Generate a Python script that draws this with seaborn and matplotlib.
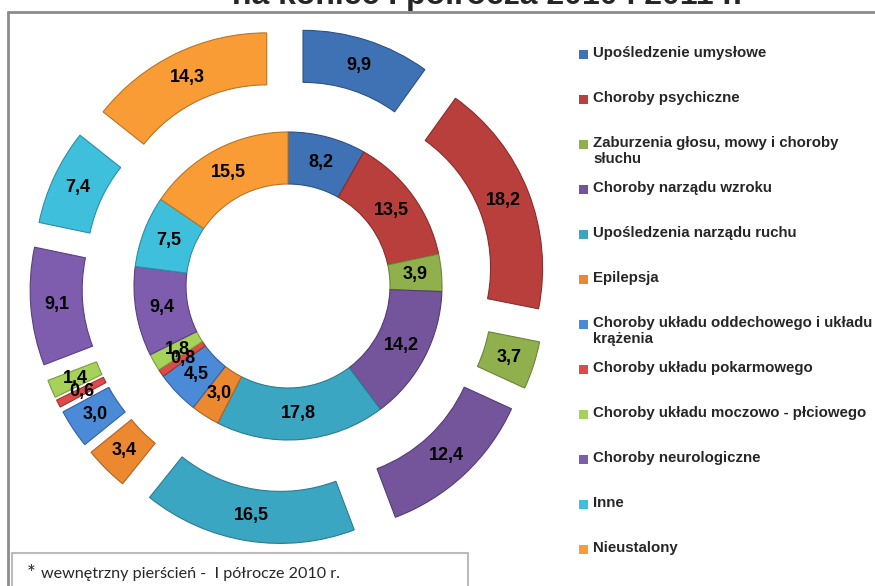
import matplotlib
matplotlib.use("Agg")
import matplotlib.pyplot as plt
from matplotlib.patches import Rectangle
from matplotlib.lines import Line2D
import seaborn as sns

sns.set_theme(style="white")
plt.rcParams['font.family'] = ['Liberation Sans', 'DejaVu Sans']

categories = [
    "Upośledzenie umysłowe",
    "Choroby psychiczne",
    "Zaburzenia głosu, mowy i choroby\nsłuchu",
    "Choroby narządu wzroku",
    "Upośledzenia narządu ruchu",
    "Epilepsja",
    "Choroby układu oddechowego i układu\nkrążenia",
    "Choroby układu pokarmowego",
    "Choroby układu moczowo - płciowego",
    "Choroby neurologiczne",
    "Inne",
    "Nieustalony",
]
values_2010 = [8.2, 13.5, 3.9, 14.2, 17.8, 3.0, 4.5, 0.8, 1.8, 9.4, 7.5, 15.5]
values_2011 = [9.9, 18.2, 3.7, 12.4, 16.5, 3.4, 3.0, 0.6, 1.4, 9.1, 7.4, 14.3]
title_text = "na koniec I półrocza 2010 i 2011 r."
footnote_text = "wewnętrzny pierścień -  I półrocze 2010 r."

palette = sns.color_palette([
    "#3F72B5", "#B93F3C", "#8FB04D", "#74559C", "#3AA6C2", "#EC8830",
    "#4A8AD6", "#DC4B48", "#A6D25A", "#7E5CAE", "#3EBFDB", "#F99C35",
])
edge = sns.color_palette([
    "#2A5286", "#8A2C2A", "#6A8636", "#543C74", "#2A7C92", "#B06422",
    "#33649E", "#A03432", "#7A9C40", "#5B4080", "#2C8FA5", "#BA7426",
])

W, H = 875, 586
fig = plt.figure(figsize=(W / 100, H / 100), dpi=100)
ax = fig.add_axes([0, 0, 1, 1])

cx, cy = 288, H - 286
ring_w = 52
r_in = 154
r_out = 209
explode = 49

def fmt(v):
    return f"{v:.1f}".replace(".", ",")

lbl_font = dict(ha="center", va="center", fontweight="bold", fontsize=13, color="black")

w_in, _ = ax.pie(values_2010, radius=r_in, center=(cx, cy), startangle=90, counterclock=False,
                 colors=palette, labels=[fmt(v) for v in values_2010],
                 labeldistance=(r_in - ring_w / 2) / r_in, textprops=lbl_font,
                 wedgeprops=dict(width=ring_w, linewidth=0.8))
w_out, _ = ax.pie(values_2011, radius=r_out, center=(cx, cy), startangle=90, counterclock=False,
                  colors=palette, labels=[fmt(v) for v in values_2011],
                  labeldistance=(r_out - ring_w / 2) / r_out, textprops=lbl_font,
                  explode=[explode] * len(values_2011),
                  wedgeprops=dict(width=ring_w, linewidth=0.8))
for wl in (w_in, w_out):
    for w, e in zip(wl, edge):
        w.set_edgecolor(e)

ax.set_xlim(0, W)
ax.set_ylim(0, H)
ax.set_aspect("equal")
ax.axis("off")

# frame lines
ax.add_line(Line2D([8, W], [H - 12, H - 12], color="#8C8C8C", lw=2, clip_on=False))
ax.add_line(Line2D([8, 8], [H - 12, 0], color="#8C8C8C", lw=2, clip_on=False))

# footnote box
ax.add_line(Line2D([12, 468], [H - 553, H - 553], color="#BBBBBB", lw=1.5))
ax.add_line(Line2D([12, 12], [H - 553, 0], color="#BBBBBB", lw=1.5))
ax.add_line(Line2D([468, 468], [H - 553, 0], color="#BBBBBB", lw=1.5))
ax.text(27, H - 580, "*", fontsize=15, family=["Lato", "DejaVu Sans"], va="baseline")
ax.text(41, H - 578, footnote_text, fontsize=11.6, family=["Lato", "DejaVu Sans"], va="baseline")

# title (cut at top)
ax.text(487, H - 4, title_text, fontsize=23, fontweight="bold", ha="center", va="baseline", clip_on=False)

# legend
for i, (cat, col) in enumerate(zip(categories, palette)):
    yc = H - (54 + 45 * i)
    ax.add_patch(Rectangle((579, yc - 4.5), 9, 9, facecolor=col, edgecolor="none"))
    ax.text(593, yc + 8, cat, fontsize=10.8, fontweight="bold", ha="left", va="top",
            linespacing=1.15)

fig.savefig("out.png", dpi=100)
